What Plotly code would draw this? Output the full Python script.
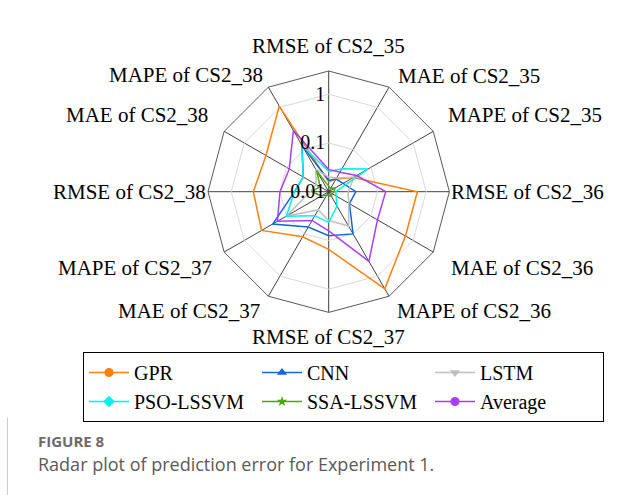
import math
import plotly.graph_objects as go

# Error metrics per battery (axis categories, clockwise from the top)
categories = [
    "RMSE of CS2_35", "MAE of CS2_35", "MAPE of CS2_35",
    "RMSE of CS2_36", "MAE of CS2_36", "MAPE of CS2_36",
    "RMSE of CS2_37", "MAE of CS2_37", "MAPE of CS2_37",
    "RMSE of CS2_38", "MAE of CS2_38", "MAPE of CS2_38",
]

gpr = [0.016, 0.02, 0.0385, 0.66, 0.66, 2.0, 0.153, 0.117, 0.39, 0.352, 0.307, 1.07]
cnn = [0.017, 0.02, 0.022, 0.036, 0.031, 0.1, 0.08, 0.069, 0.212, 0.05, 0.04, 0.125]
lstm = [0.02, 0.021, 0.04, 0.025, 0.03, 0.065, 0.039, 0.027, 0.1, 0.024, 0.02, 0.034]
pso_lssvm = [0.026, 0.035, 0.085, 0.014, 0.015, 0.022, 0.0426, 0.037, 0.101, 0.0507, 0.04, 0.128]
ssa_lssvm = [0.013, 0.012, 0.014, 0.013, 0.012, 0.013, 0.012, 0.012, 0.015, 0.022, 0.016, 0.031]
average = [0.0287, 0.029, 0.046, 0.148, 0.143, 0.447, 0.064, 0.048, 0.164, 0.1, 0.086, 0.281]

radial_ticks = [0.01, 0.1, 1]
radial_ticktext = ["0.01", "0.1", "1"]

series = [
    ("GPR", gpr, "#FF7F0E", "circle", 9),
    ("CNN", cnn, "#1467D6", "triangle-up", 9),
    ("LSTM", lstm, "#BFBFBF", "triangle-down", 9),
    ("PSO-LSSVM", pso_lssvm, "#00F0F0", "diamond", 9),
    ("SSA-LSSVM", ssa_lssvm, "#4EA514", "star", 8),
    ("Average", average, "#A73FF5", "circle", 9),
]

SERIF = "Liberation Serif"

fig = go.Figure()
for name, vals, color, symbol, size in series:
    fig.add_trace(go.Scatterpolar(
        r=vals + vals[:1],
        theta=categories + categories[:1],
        name=name,
        mode="lines+markers",
        line=dict(color=color, width=1.5),
        marker=dict(color=color, symbol=symbol, size=size),
    ))

# polar area: centre and outer radius in pixels
cx, cy, R = 328.7, 191.7, 120.7
W, H = 641, 495

fig.update_layout(
    width=W, height=H,
    margin=dict(l=0, r=0, t=0, b=0),
    paper_bgcolor="white",
    font=dict(family=SERIF, size=20, color="black"),
    polar=dict(
        domain=dict(x=[(cx - R) / W, (cx + R) / W],
                    y=[(H - cy - R) / H, (H - cy + R) / H]),
        bgcolor="rgba(0,0,0,0)",
        gridshape="linear",
        angularaxis=dict(
            direction="clockwise", rotation=90,
            showline=True, linecolor="#595959", linewidth=1,
            gridcolor="#404040", gridwidth=1,
            ticks="", showticklabels=False,
        ),
        radialaxis=dict(
            type="log", range=[-2, 0.477],
            tickvals=radial_ticks, ticktext=radial_ticktext,
            angle=90, tickangle=90, side="counterclockwise",
            showline=False, ticks="",
            gridcolor="#D9D9D9", gridwidth=1,
            tickfont=dict(family=SERIF, size=20, color="black"),
        ),
    ),
    legend=dict(
        orientation="h",
        x=83 / W, xanchor="left",
        y=(H - 352) / H, yanchor="top",
        bgcolor="white", bordercolor="black", borderwidth=1,
        font=dict(family=SERIF, size=20, color="black"),
        itemwidth=40,
        entrywidth=118, entrywidthmode="pixels",
        traceorder="normal",
    ),
    showlegend=True,
)

# category labels around the outer polygon, offset outward from each vertex
label_gap = [(0, 25), (7, 11), (13, 16), (0, 0), (16, -16), (6, -15),
             (0, -25), (-6, -15), (-10, -16), (0, 0), (-14, 16), (-3, 12)]
for k, (name, (gx, gy)) in enumerate(zip(categories, label_gap)):
    ang = math.radians(90 - 30 * k)
    vx = cx + R * math.cos(ang)
    vy = cy - R * math.sin(ang)
    s = math.cos(ang)
    if abs(s) < 1e-6:
        xa = "center"
    elif s > 0:
        xa = "left"
    else:
        xa = "right"
    fig.add_annotation(
        text=name, xref="paper", yref="paper",
        x=(vx + gx) / W, y=(H - (vy - gy)) / H,
        xanchor=xa, yanchor="middle", showarrow=False,
        font=dict(family=SERIF, size=21, color="black"),
    )

fig.add_annotation(text="<b>FIGURE 8</b>", xref="paper", yref="paper",
                   x=36 / W, y=(H - 441) / H, xanchor="left", yanchor="middle",
                   showarrow=False, font=dict(family="Open Sans", size=15, color="#6b6b6b"))
fig.add_annotation(text="Radar plot of prediction error for Experiment 1.",
                   xref="paper", yref="paper",
                   x=36 / W, y=(H - 464) / H, xanchor="left", yanchor="middle",
                   showarrow=False, font=dict(family="Open Sans", size=18, color="#5a5a5a"))
fig.add_shape(type="line", xref="paper", yref="paper",
              x0=7.5 / W, x1=7.5 / W, y0=0, y1=(H - 418) / H,
              line=dict(color="#cccccc", width=1))

fig.write_html("out.html")
